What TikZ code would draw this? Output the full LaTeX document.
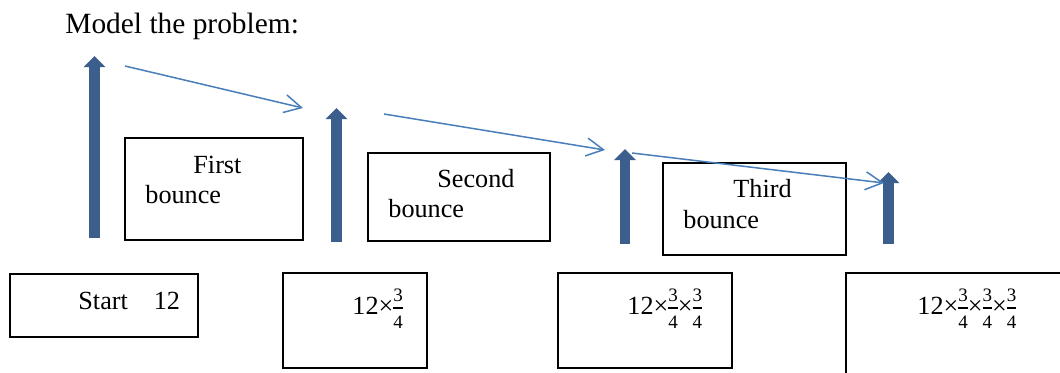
\documentclass[tikz,border=0pt]{standalone}
\usepackage{amsmath}
\usepackage{fontspec}
\setmainfont{Liberation Serif}
\usetikzlibrary{arrows.meta,fit}
\definecolor{barrow}{HTML}{3B5E8D}
\definecolor{tarrow}{HTML}{4A7EBB}
\newcommand\fdig[1]{\text{\fontsize{9.5}{9.5}\selectfont #1}}
\newcommand\qfrac{{\nulldelimiterspace=0pt$\genfrac{}{}{0.8pt}{1}{\fdig{3}\rule[-2pt]{0pt}{2pt}}{\fdig{4}\rule{0pt}{9pt}}$}}
\begin{document}
\begin{tikzpicture}[x=0.5pt,y=-0.5pt,
  box/.style={draw=black,line width=0.65pt,inner sep=0pt},
  lbl/.style={anchor=base west,inner sep=0pt,font=\fontsize{13.1}{15}\selectfont},
  bigarrow/.style={draw=barrow,line width=5.25pt,-{Triangle[length=5.5pt,width=10.5pt]}},
  thinarrow/.style={draw=tarrow,line width=0.75pt,-{Straight Barb[length=8.5pt,width=9pt]}}]
\useasboundingbox (0,0) rectangle (1060,372);
\fill[white] (0,0) rectangle (1060,372);

% title
\node[anchor=base west,inner sep=0pt,font=\fontsize{14.7}{17}\selectfont] (title) at (65,33) {Model the problem:};

% middle boxes
\node[box,fit={(125,138) (303,240)}] (b1) {};
\node[box,fit={(368,153) (550,241)}] (b2) {};
\node[box,fit={(663,163) (846,255)}] (b3) {};
\node[lbl] (b1a) at (193,173) {First};
\node[lbl] (b1b) at (145,203) {bounce};
\node[lbl] (b2a) at (437,187) {Second};
\node[lbl] (b2b) at (388,217) {bounce};
\node[lbl] (b3a) at (733,197) {Third};
\node[lbl] (b3b) at (683,228) {bounce};

% bottom boxes
\node[box,fit={(10,274) (198,337)}] (s0) {};
\node[box,fit={(283,273) (427,368)}] (s1) {};
\node[box,fit={(558,273) (732,368)}] (s2) {};
\node[box,fit={(846,273) (1066,378)}] (s3) {};
\node[lbl] (s0t) at (78,309) {Start\hspace{13pt}12};
\node[lbl] (s1t) at (352,314) {12×\qfrac};
\node[lbl] (s2t) at (627,314) {12×\qfrac×\qfrac};
\node[lbl] (s3t) at (917,314) {12×\qfrac×\qfrac×\qfrac};

% block arrows
\coordinate (a1b) at (94.5,238); \coordinate (a1t) at (94.5,56);
\coordinate (a2b) at (336.5,242); \coordinate (a2t) at (336.5,108);
\coordinate (a3b) at (625,244); \coordinate (a3t) at (625,149);
\coordinate (a4b) at (888.5,244); \coordinate (a4t) at (888.5,172);
\draw[bigarrow] (a1b) -- (a1t);
\draw[bigarrow] (a2b) -- (a2t);
\draw[bigarrow] (a3b) -- (a3t);
\draw[bigarrow] (a4b) -- (a4t);

% thin arrows
\coordinate (p1s) at (125,66); \coordinate (p1e) at (303,108);
\coordinate (p2s) at (384,114); \coordinate (p2e) at (605,150);
\coordinate (p3s) at (632,153); \coordinate (p3e) at (884,183);
\draw[thinarrow] (p1s) -- (p1e);
\draw[thinarrow] (p2s) -- (p2e);
\draw[thinarrow] (p3s) -- (p3e);
\end{tikzpicture}
\end{document}
